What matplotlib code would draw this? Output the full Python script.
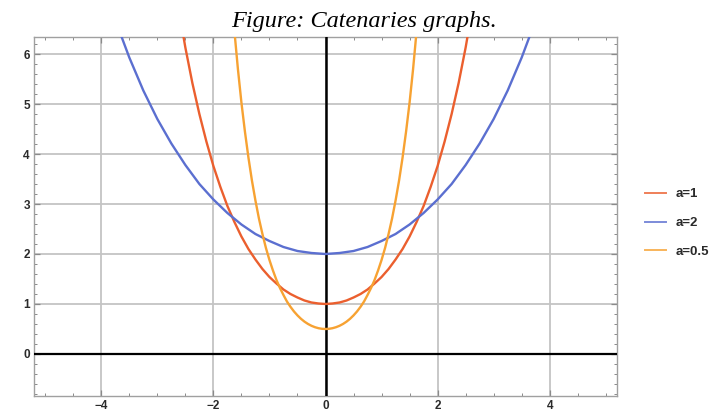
import matplotlib.pyplot as plt
from matplotlib.ticker import MultipleLocator

# catenary y = a*cosh(x/a)
x_a1 = [-2.625, -2.5, -2.375, -2.25, -2.125, -2.0, -1.875, -1.75, -1.625, -1.5,
        -1.375, -1.25, -1.125, -1.0, -0.875, -0.75, -0.625, -0.5, -0.375, -0.25,
        -0.125, 0.0, 0.125, 0.25, 0.375, 0.5, 0.625, 0.75, 0.875, 1.0,
        1.125, 1.25, 1.375, 1.5, 1.625, 1.75, 1.875, 2.0, 2.125, 2.25,
        2.375, 2.5, 2.625]
y_a1 = [6.94, 6.13, 5.42, 4.80, 4.25, 3.76, 3.34, 2.96, 2.64, 2.35,
        2.10, 1.89, 1.70, 1.54, 1.41, 1.29, 1.20, 1.13, 1.07, 1.03,
        1.01, 1.00, 1.01, 1.03, 1.07, 1.13, 1.20, 1.29, 1.41, 1.54,
        1.70, 1.89, 2.10, 2.35, 2.64, 2.96, 3.34, 3.76, 4.25, 4.80,
        5.42, 6.13, 6.94]

x_a2 = [-3.75, -3.5, -3.25, -3.0, -2.75, -2.5, -2.25, -2.0, -1.75, -1.5, -1.25, -1.0,
        -0.75, -0.5, -0.25, 0.0, 0.25, 0.5, 0.75, 1.0, 1.25, 1.5, 1.75, 2.0,
        2.25, 2.5, 2.75, 3.0, 3.25, 3.5, 3.75]
y_a2 = [6.68, 5.93, 5.27, 4.70, 4.21, 3.78, 3.40, 3.09, 2.82, 2.59, 2.40, 2.26,
        2.14, 2.06, 2.02, 2.00, 2.02, 2.06, 2.14, 2.26, 2.40, 2.59, 2.82, 3.09,
        3.40, 3.78, 4.21, 4.70, 5.27, 5.93, 6.68]

x_a05 = [-1.625, -1.5625, -1.5, -1.4375, -1.375, -1.3125, -1.25, -1.1875, -1.125,
         -1.0625, -1.0, -0.9375, -0.875, -0.8125, -0.75, -0.6875, -0.625, -0.5625,
         -0.5, -0.4375, -0.375, -0.3125, -0.25, -0.1875, -0.125, -0.0625, 0.0,
         0.0625, 0.125, 0.1875, 0.25, 0.3125, 0.375, 0.4375, 0.5, 0.5625,
         0.625, 0.6875, 0.75, 0.8125, 0.875, 0.9375, 1.0, 1.0625, 1.125,
         1.1875, 1.25, 1.3125, 1.375, 1.4375, 1.5, 1.5625, 1.625]
y_a05 = [6.46, 5.70, 5.03, 4.45, 3.93, 3.47, 3.07, 2.71, 2.40,
         2.12, 1.88, 1.67, 1.48, 1.32, 1.18, 1.05, 0.944, 0.851,
         0.772, 0.704, 0.647, 0.601, 0.564, 0.536, 0.516, 0.504, 0.500,
         0.504, 0.516, 0.536, 0.564, 0.601, 0.647, 0.704, 0.772, 0.851,
         0.944, 1.05, 1.18, 1.32, 1.48, 1.67, 1.88, 2.12, 2.40,
         2.71, 3.07, 3.47, 3.93, 4.45, 5.03, 5.70, 6.46]

labels = ["a=1", "a=2", "a=0.5"]
colors = ["#eb5f2e", "#5b6fd0", "#f7a232"]

fig = plt.figure(figsize=(7.12, 4.12), dpi=100)
ax = fig.add_axes([34/712, 16/412, 583/712, 359/412])

ax.plot(x_a1, y_a1, color=colors[0], lw=1.7, label=labels[0], zorder=4)
ax.plot(x_a2, y_a2, color=colors[1], lw=1.7, label=labels[1], zorder=4)
ax.plot(x_a05, y_a05, color=colors[2], lw=1.7, label=labels[2], zorder=4)

ax.axhline(0, color="black", lw=1.6, zorder=3)
ax.axvline(0, color="black", lw=1.8, zorder=3)

ax.set_xlim(-5.2, 5.2)
ax.set_ylim(-0.84, 6.34)
ax.xaxis.set_major_locator(MultipleLocator(2))
ax.xaxis.set_minor_locator(MultipleLocator(0.5))
ax.yaxis.set_major_locator(MultipleLocator(1))
ax.yaxis.set_minor_locator(MultipleLocator(0.2))
ax.grid(True, which="major", color="#c4c4c4", lw=1.3, zorder=1)

ax.tick_params(which="both", direction="in", top=True, right=True,
               color="#8a8a8a", labelsize=8.5, labelcolor="#2a2a2a", pad=3)
ax.tick_params(which="major", length=4, width=0.9)
ax.tick_params(which="minor", length=2, width=0.7)
ax.set_xticks([-4, -2, 0, 2, 4])
ax.set_xticklabels(["\u22124", "\u22122", "0", "2", "4"])
ax.set_yticks([0, 1, 2, 3, 4, 5, 6])
ax.set_yticklabels(["0", "1", "2", "3", "4", "5", "6"])
for lab in ax.get_xticklabels() + ax.get_yticklabels():
    lab.set_fontweight("bold")
    lab.set_family("Liberation Sans")
for s in ax.spines.values():
    s.set_color("#a0a0a0")
    s.set_linewidth(1.0)

leg = ax.legend(loc="center left", bbox_to_anchor=(634/712, 1 - 223/412),
                bbox_transform=fig.transFigure, frameon=False,
                prop={"weight": "bold", "size": 9.5, "family": "Liberation Sans"},
                handlelength=1.6, handletextpad=0.75, labelspacing=1.25,
                borderpad=0.3)
for line in leg.get_lines():
    line.set_linewidth(1.4)
    line.set_alpha(0.8)
for t in leg.get_texts():
    t.set_color("#2a2a2a")

fig.text(364/712, 1 - 27/412, "Figure: Catenaries graphs.", ha="center",
         va="baseline", fontsize=17.5, style="italic", family="Liberation Serif")

fig.savefig("out.png", dpi=100)
